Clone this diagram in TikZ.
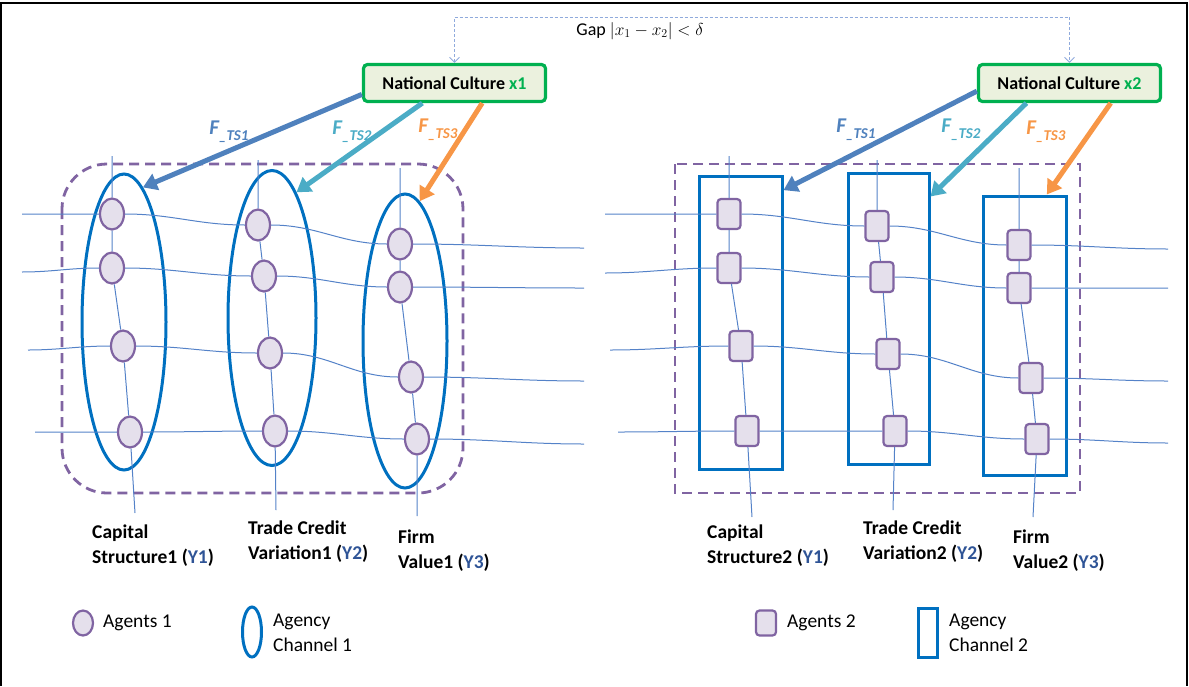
\documentclass[tikz,border=0pt]{standalone}
\usepackage{fontspec}
\setmainfont{Carlito}
\usetikzlibrary{arrows.meta,shapes.geometric}
\definecolor{agentline}{RGB}{128,100,162}
\definecolor{agentfill}{RGB}{229,224,236}
\definecolor{chanblue}{RGB}{0,112,192}
\definecolor{wireblue}{RGB}{84,130,200}
\definecolor{culturegreen}{RGB}{0,176,80}
\definecolor{culturefill}{RGB}{235,241,222}
\definecolor{gapblue}{RGB}{143,170,220}
\definecolor{tsone}{RGB}{79,129,189}
\definecolor{tstwo}{RGB}{75,172,198}
\definecolor{tsthree}{RGB}{247,150,70}
\definecolor{yblue}{RGB}{47,84,150}
\begin{document}
\begin{tikzpicture}[x=1pt,y=-1pt,
  agent/.style={ellipse,draw=agentline,fill=agentfill,line width=2.2pt,minimum width=24pt,minimum height=31pt,inner sep=0pt},
  agentbox/.style={rectangle,rounded corners=3.5pt,draw=agentline,fill=agentfill,line width=2.2pt,minimum width=23pt,minimum height=30pt,inner sep=0pt},
  channel/.style={ellipse,draw=chanblue,line width=3pt,inner sep=0pt},
  chanbox/.style={rectangle,draw=chanblue,line width=3pt,inner sep=0pt},
  wire/.style={draw=wireblue,line width=1pt},
  hor/.style={out=0,in=180},
  group/.style={draw=agentline,line width=2.8pt,dash pattern=on 10pt off 6pt},
  culture/.style={draw=culturegreen,fill=culturefill,line width=3.2pt,rounded corners=4pt,minimum width=182pt,minimum height=37pt,font=\fontsize{18}{20}\selectfont\bfseries},
  fts/.style={line width=5pt,-{Triangle[width=17pt,length=14pt]}},
  ftslbl/.style={inner sep=0pt,font=\fontsize{21}{22}\selectfont\bfseries\itshape},
  gapline/.style={draw=gapblue,line width=0.9pt,dash pattern=on 3pt off 2pt,{Straight Barb[length=5pt,width=10pt]}-{Straight Barb[length=5pt,width=10pt]}},
  lbl/.style={align=left,anchor=west,inner sep=0pt,font=\fontsize{19.5}{25}\selectfont\bfseries},
  legend/.style={align=left,anchor=west,inner sep=0pt,font=\fontsize{19.5}{25}\selectfont}
]
\useasboundingbox (0,0) rectangle (1189,686);
\draw[line width=2.4pt] (1,686) -- (1,3) -- (1187,3) -- (1187,686); % frame

% national culture boxes and the gap between them
\node[culture] (nc1) at (454.5,83) {National Culture \textcolor{culturegreen}{x1}};
\node[culture] (nc2) at (1069.5,83) {National Culture \textcolor{culturegreen}{x2}};
\coordinate (gapy) at (760,17);
\draw[gapline] (nc1.north) |- (gapy) -| (nc2.north);
\node[font=\fontsize{18}{20}\selectfont] (gaplbl) at (640,31) {Gap $|x_1-x_2|<\delta$};

% left panel
\draw[group,rounded corners=45pt] (62,164) rectangle (463,493);
\node[channel,minimum width=84pt,minimum height=296pt] (ch1) at (124,322) {};
\node[channel,minimum width=88pt,minimum height=295pt] (ch2) at (272,318) {};
\node[channel,minimum width=84pt,minimum height=294pt] (ch3) at (405,341) {};
\foreach \n/\x/\y in {a11/112/214, a12/112/268, a13/123/346, a14/130/432,
                      a21/258/225, a22/264/276, a23/270/353, a24/275/431,
                      a31/400/244, a32/400/287, a33/411/377, a34/417/439}
\node[agent] (\n) at (\x,\y) {};
\foreach \r/\xs/\ys/\ye in {1/22/214/248, 2/22/272/288, 3/28/350/381, 4/35/432/444} { % rows
  \coordinate (ls\r) at (\xs,\ys);
  \coordinate (le\r) at (584,\ye);
  \draw[wire] (ls\r) to[hor] (a1\r) to[hor] (a2\r) to[hor] (a3\r) to[hor] (le\r);
}
\foreach \c/\xt/\yt/\xb/\yb in {1/112/156/135/513, 2/258/160/276/510, 3/400/168/417/516} { % columns
  \coordinate (lt\c) at (\xt,\yt);
  \coordinate (lb\c) at (\xb,\yb);
  \draw[wire] (lt\c) -- (a\c1) -- (a\c2) -- (a\c3) -- (a\c4) -- (lb\c);
}
\draw[fts,tsone] (nc1.187) -- (ch1.82);
\draw[fts,tstwo] (nc1.212) -- (ch2.79);
\draw[fts,tsthree] (nc1.324) -- (ch3.84);
\node[ftslbl,text=tsone] (f11) at (229,132) {F\raisebox{-0.55ex}{\fontsize{15}{15}\selectfont\_TS1}};
\node[ftslbl,text=tstwo] (f12) at (352,132) {F\raisebox{-0.55ex}{\fontsize{15}{15}\selectfont\_TS2}};
\node[ftslbl,text=tsthree] (f13) at (438,130) {F\raisebox{-0.55ex}{\fontsize{15}{15}\selectfont\_TS3}};

% right panel
\draw[group] (675,164) rectangle (1080,493);
\node[chanbox,minimum width=83pt,minimum height=293pt] (cb1) at (740.5,322.5) {};
\node[chanbox,minimum width=81pt,minimum height=291pt] (cb2) at (888.5,318.5) {};
\node[chanbox,minimum width=83pt,minimum height=279pt] (cb3) at (1024.5,335.5) {};
\foreach \n/\x/\y in {b11/729/214, b12/729/268, b13/741/346, b14/747/431,
                      b21/877/226, b22/882/277, b23/888/354, b24/895/431,
                      b31/1019/245, b32/1019/288, b33/1031/378, b34/1037/439}
\node[agentbox] (\n) at (\x,\y) {};
\foreach \r/\xs/\ys/\ye in {1/605/214/249, 2/605/273/288, 3/610/350/381, 4/618/432/443} { % rows
  \coordinate (rs\r) at (\xs,\ys);
  \coordinate (re\r) at (1168,\ye);
  \draw[wire] (rs\r) to[hor] (b1\r) to[hor] (b2\r) to[hor] (b3\r) to[hor] (re\r);
}
\foreach \c/\xt/\yt/\xb/\yb in {1/729/156/752/517, 2/877/160/893/510, 3/1019/168/1033/517} { % columns
  \coordinate (rt\c) at (\xt,\yt);
  \coordinate (rb\c) at (\xb,\yb);
  \draw[wire] (rt\c) -- (b\c1) -- (b\c2) -- (b\c3) -- (b\c4) -- (rb\c);
}
\draw[fts,tsone] (nc2.185) -- (cb1.72);
\draw[fts,tstwo] (nc2.205) -- (cb2.71);
\draw[fts,tsthree] (nc2.334) -- (cb3.81);
\node[ftslbl,text=tsone] (f21) at (856,130) {F\raisebox{-0.55ex}{\fontsize{15}{15}\selectfont\_TS1}};
\node[ftslbl,text=tstwo] (f22) at (961,130) {F\raisebox{-0.55ex}{\fontsize{15}{15}\selectfont\_TS2}};
\node[ftslbl,text=tsthree] (f23) at (1046,132) {F\raisebox{-0.55ex}{\fontsize{15}{15}\selectfont\_TS3}};

% variable labels
\node[lbl] (y11) at (92,545.5) {Capital\\Structure1 (\textcolor{yblue}{Y1})};
\node[lbl] (y12) at (248,541.5) {Trade Credit\\Variation1 (\textcolor{yblue}{Y2})};
\node[lbl] (y13) at (398,550.5) {Firm\\Value1 (\textcolor{yblue}{Y3})};
\node[lbl] (y21) at (707,545.5) {Capital\\Structure2 (\textcolor{yblue}{Y1})};
\node[lbl] (y22) at (863,541.5) {Trade Credit\\Variation2 (\textcolor{yblue}{Y2})};
\node[lbl] (y23) at (1013,550.5) {Firm\\Value2 (\textcolor{yblue}{Y3})};

% legends
\node[agent,minimum width=20pt,minimum height=25pt] (lag1) at (83,623) {};
\node[legend] (lagt1) at (103,623) {Agents 1};
\node[channel,minimum width=19pt,minimum height=50pt] (lch1) at (252,632) {};
\node[legend] (lcht1) at (273,632.5) {Agency\\Channel 1};
\node[agentbox,minimum width=20pt,minimum height=25pt] (lag2) at (766,623) {};
\node[legend] (lagt2) at (787,623) {Agents 2};
\node[chanbox,minimum width=19pt,minimum height=49pt] (lch2) at (927.5,632.5) {};
\node[legend] (lcht2) at (949,632.5) {Agency\\Channel 2};
\end{tikzpicture}
\end{document}
